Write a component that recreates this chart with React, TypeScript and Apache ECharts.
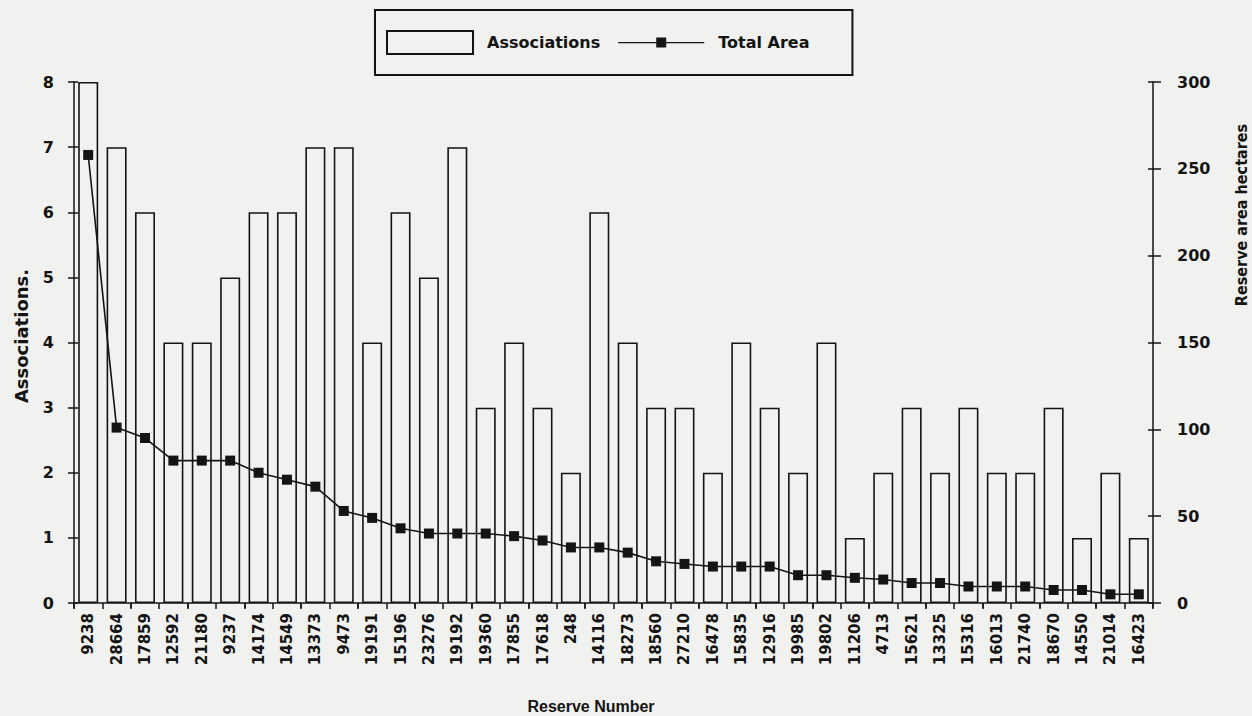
import React, { useEffect, useRef } from "react";
import * as echarts from "echarts";

// Reserve identifiers, in order of decreasing total area
const reserves = [
  "9238", "28664", "17859", "12592", "21180", "9237", "14174", "14549", "13373", "9473",
  "19191", "15196", "23276", "19192", "19360", "17855", "17618", "248", "14116", "18273",
  "18560", "27210", "16478", "15835", "12916", "19985", "19802", "11206", "4713", "15621",
  "13325", "15316", "16013", "21740", "18670", "14550", "21014", "16423",
];

// Number of plant associations found in each reserve
const associations = [
  8, 7, 6, 4, 4, 5, 6, 6, 7, 7,
  4, 6, 5, 7, 3, 4, 3, 2, 6, 4,
  3, 3, 2, 4, 3, 2, 4, 1, 2, 3,
  2, 3, 2, 2, 3, 1, 2, 1,
];

// Total reserve area in hectares
const totalArea = [
  258, 101, 95, 82, 82, 82, 75, 71, 67, 53,
  49, 43, 40, 40, 40, 38.5, 36, 32, 32, 29,
  24, 22.5, 21, 21, 21, 16, 16, 14.5, 13.5, 11.5,
  11.5, 9.5, 9.5, 9.5, 7.5, 7.5, 5, 5,
];

const leftTicks = { min: 0, max: 8, interval: 1 };
const rightTicks = { min: 0, max: 300, interval: 50 };

const INK = "#141414";
const PAPER = "#f1f1ef";
const WIDE = "'DejaVu Sans', 'Noto Sans', sans-serif";
const SANS = "'Liberation Sans', Arial, sans-serif";
const NARROW = "'Liberation Sans Narrow', 'DejaVu Sans Condensed', sans-serif";

// Legend key for the area line: a thin rule with a small square in the middle,
// drawn in an 86 x 23 box (the corner moves pin the bounding box).
const LINE_KEY =
  "path://M0,0 M86,23 M0,10.9 H86 V12.3 H0 Z M38,6.6 H48 V16.6 H38 Z";

const stroke = { color: INK, width: 1.5 };

export default function App() {
  const ref = useRef<HTMLDivElement>(null);

  useEffect(() => {
    if (!ref.current) return;
    const chart = echarts.init(ref.current, null, { renderer: "svg" });

    const tickLabel = {
      color: INK,
      fontFamily: WIDE,
      fontWeight: "bold" as const,
      fontSize: 16,
    };

    // Companion axes that only draw the inner half of each tick mark,
    // so that the ticks cross the axis lines.
    const innerTicksX = {
      type: "category",
      data: reserves,
      boundaryGap: true,
      axisLine: { show: false },
      axisTick: { show: true, inside: true, alignWithLabel: false, length: 5, lineStyle: stroke },
      axisLabel: { show: false },
      splitLine: { show: false },
    };

    chart.setOption({
      animation: false,
      backgroundColor: PAPER,
      grid: { left: 74, right: 99, top: 82, bottom: 113, containLabel: false },
      legend: {
        left: 375,
        top: 10,
        padding: [20, 43, 20, 11],
        borderColor: INK,
        borderWidth: 2,
        itemWidth: 86,
        itemHeight: 23,
        itemGap: 18,
        selectedMode: false,
        textStyle: {
          color: INK,
          fontFamily: WIDE,
          fontWeight: "bold",
          fontSize: 16,
          padding: [0, 0, 0, 9],
        },
        data: [
          { name: "Associations", icon: "rect" },
          { name: "Total Area", icon: LINE_KEY, itemStyle: { color: INK, borderWidth: 0 } },
        ],
      },
      xAxis: [
        {
          type: "category",
          data: reserves,
          boundaryGap: true,
          axisLine: { show: true, lineStyle: stroke },
          axisTick: { show: true, alignWithLabel: false, length: 6, lineStyle: stroke },
          axisLabel: { ...tickLabel, fontSize: 15, rotate: 90, margin: 10, interval: 0 },
          splitLine: { show: false },
        },
        innerTicksX,
      ],
      yAxis: [
        {
          type: "value",
          position: "left",
          ...leftTicks,
          axisLine: { show: true, lineStyle: stroke },
          axisTick: { show: true, length: 6, lineStyle: stroke },
          axisLabel: { ...tickLabel, margin: 20 },
          splitLine: { show: false },
        },
        {
          type: "value",
          position: "right",
          ...rightTicks,
          axisLine: { show: true, lineStyle: stroke },
          axisTick: { show: true, length: 8, lineStyle: stroke },
          axisLabel: { ...tickLabel, margin: 24 },
          splitLine: { show: false },
        },
        {
          type: "value",
          position: "left",
          ...leftTicks,
          axisLine: { show: false },
          axisTick: { show: true, inside: true, length: 4, lineStyle: stroke },
          axisLabel: { show: false },
          splitLine: { show: false },
        },
        {
          type: "value",
          position: "right",
          ...rightTicks,
          axisLine: { show: false },
          axisTick: { show: true, inside: true, length: 5, lineStyle: stroke },
          axisLabel: { show: false },
          splitLine: { show: false },
        },
      ],
      series: [
        {
          name: "Associations",
          type: "bar",
          yAxisIndex: 0,
          data: associations,
          barWidth: 20,
          itemStyle: { color: "rgba(255,255,255,0)", borderColor: INK, borderWidth: 1.6 },
          z: 2,
        },
        {
          name: "Total Area",
          type: "line",
          yAxisIndex: 1,
          data: totalArea,
          symbol: "rect",
          symbolSize: 10,
          lineStyle: { color: INK, width: 1.6 },
          itemStyle: { color: INK },
          z: 3,
        },
      ],
      graphic: [
        {
          type: "text",
          x: 21,
          y: 336,
          rotation: Math.PI / 2,
          style: {
            text: "Associations.",
            fill: INK,
            font: `bold 18px ${WIDE}`,
            textAlign: "center",
            textVerticalAlign: "middle",
          },
        },
        {
          type: "text",
          x: 591,
          y: 706,
          style: {
            text: "Reserve Number",
            fill: INK,
            font: `bold 16px ${SANS}`,
            textAlign: "center",
            textVerticalAlign: "middle",
          },
        },
        {
          type: "text",
          x: 1241,
          y: 215,
          rotation: Math.PI / 2,
          style: {
            text: "Reserve area hectares",
            fill: INK,
            font: `bold 16px ${NARROW}`,
            textAlign: "center",
            textVerticalAlign: "middle",
          },
        },
      ],
    });

    return () => chart.dispose();
  }, []);

  return (
    <div
      ref={ref}
      style={{ position: "fixed", left: 0, top: 0, width: 1252, height: 716 }}
    />
  );
}
